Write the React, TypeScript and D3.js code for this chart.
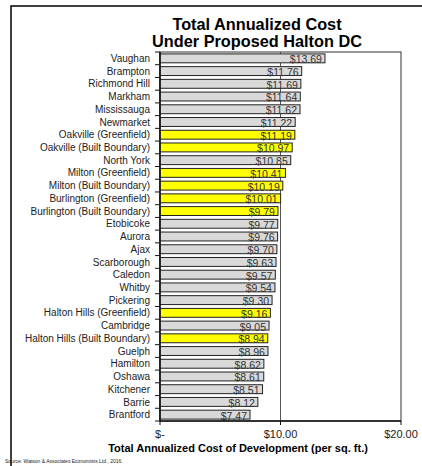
import React from "react";
import * as d3 from "d3";

const categories = [
  "Vaughan", "Brampton", "Richmond Hill", "Markham", "Mississauga", "Newmarket",
  "Oakville (Greenfield)", "Oakville (Built Boundary)", "North York",
  "Milton (Greenfield)", "Milton (Built Boundary)", "Burlington (Greenfield)",
  "Burlington (Built Boundary)", "Etobicoke", "Aurora", "Ajax", "Scarborough",
  "Caledon", "Whitby", "Pickering", "Halton Hills (Greenfield)", "Cambridge",
  "Halton Hills (Built Boundary)", "Guelph", "Hamilton", "Oshawa", "Kitchener",
  "Barrie", "Brantford",
];
const values = [
  13.69, 11.76, 11.69, 11.64, 11.62, 11.22, 11.19, 10.97, 10.85, 10.41, 10.19,
  10.01, 9.79, 9.77, 9.76, 9.7, 9.63, 9.57, 9.54, 9.3, 9.16, 9.05, 8.94, 8.96,
  8.62, 8.61, 8.51, 8.12, 7.47,
];
const halton = [
  "Oakville (Greenfield)", "Oakville (Built Boundary)", "Milton (Greenfield)",
  "Milton (Built Boundary)", "Burlington (Greenfield)", "Burlington (Built Boundary)",
  "Halton Hills (Greenfield)", "Halton Hills (Built Boundary)",
];
const xTicks = [0, 10, 20];
const xTickLabels = ["$-", "$10.00", "$20.00"];
const titleLines = ["Total Annualized Cost", "Under Proposed Halton DC"];
const xTitle = "Total Annualized Cost of Development (per sq. ft.)";
const source = "Source: Watson & Associates Economists Ltd., 2016.";

const W = 422, H = 466;
const plot = { left: 160, right: 401, top: 52, bottom: 421 };
const font = "'Liberation Sans', Arial, sans-serif";

export default function App() {
  const x = d3.scaleLinear().domain([0, 20]).range([plot.left, plot.right]);
  const y = d3.scaleBand().domain(categories).range([plot.top, plot.bottom]).paddingInner(0.3).paddingOuter(0.15);
  const boundaries = d3.range(categories.length + 1).map((i) => plot.top + i * ((plot.bottom - plot.top) / categories.length));

  return (
    <svg width={W} height={H} style={{ position: "absolute", left: 0, top: 0, background: "#fff" }} fontFamily={font}>
      <rect x={11} y={6} width={430} height={480} fill="#fff" stroke="#000" strokeWidth={1.5} />
      {titleLines.map((t, i) => (
        <text key={t} x={257} y={30 + i * 17} textAnchor="middle" fontSize={16.3} fontWeight="bold" fill="#000">{t}</text>
      ))}
      <rect x={plot.left} y={plot.top} width={plot.right - plot.left} height={plot.bottom - plot.top} fill="#fff" stroke="#333" strokeWidth={1} />
      <line x1={x(10)} x2={x(10)} y1={plot.top} y2={plot.bottom} stroke="#555" strokeWidth={1} />
      {categories.map((c, i) => {
        const yy = y(c)!;
        const isH = halton.includes(c);
        return (
          <g key={c}>
            <rect x={x(0)} y={yy} width={x(values[i]) - x(0)} height={y.bandwidth()} fill={isH ? "#ffff00" : "#d9d9d9"} stroke="#222" strokeWidth={1} />
            <text x={x(values[i]) - 3} y={yy + y.bandwidth() + 0.5} textAnchor="end" fontSize={10.5} fill="#333">{"$" + values[i].toFixed(2)}</text>
            <text x={150} y={yy + y.bandwidth() / 2 + 3.6} textAnchor="end" fontSize={10} fill="#222">{c}</text>
          </g>
        );
      })}
      <line x1={plot.left} x2={plot.left} y1={plot.top} y2={plot.bottom} stroke="#111" strokeWidth={1.5} />
      {boundaries.map((b, i) => (
        <line key={i} x1={plot.left - 5} x2={plot.left} y1={b} y2={b} stroke="#111" strokeWidth={1} />
      ))}
      <line x1={plot.left} x2={plot.right} y1={plot.bottom} y2={plot.bottom} stroke="#111" strokeWidth={1.5} />
      {xTicks.map((t, i) => (
        <g key={t}>
          <line x1={x(t)} x2={x(t)} y1={plot.bottom} y2={plot.bottom + 4} stroke="#111" strokeWidth={1} />
          <text x={x(t)} y={plot.bottom + 17} textAnchor="middle" fontSize={11} fill="#222">{xTickLabels[i]}</text>
        </g>
      ))}
      <text x={238} y={452} textAnchor="middle" fontSize={11} fontWeight="bold" fill="#000">{xTitle}</text>
      <text x={5} y={463} fontSize={5} fill="#222">{source}</text>
    </svg>
  );
}
